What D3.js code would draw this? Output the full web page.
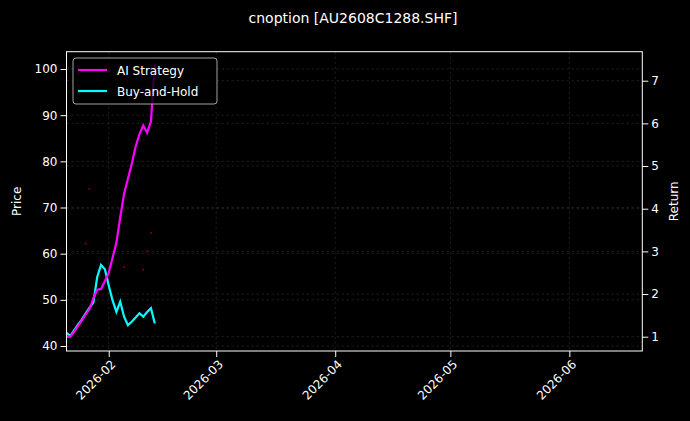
<!DOCTYPE html>
<html>
<head>
<meta charset="utf-8">
<script src="https://cdn.jsdelivr.net/npm/d3@7"></script>
<style>
  body { margin: 0; background: #000; }
  text { font-family: "DejaVu Sans", sans-serif; fill: #fff; }
</style>
</head>
<body>
<div id="chart"></div>
<script>
// dates of the daily series
var dates = ['2026-01-21','2026-01-22','2026-01-23','2026-01-24','2026-01-25','2026-01-26',
  '2026-01-27','2026-01-28','2026-01-29','2026-01-30','2026-01-31','2026-02-01','2026-02-02',
  '2026-02-03','2026-02-04','2026-02-05','2026-02-06','2026-02-07','2026-02-08','2026-02-09',
  '2026-02-10','2026-02-11','2026-02-12','2026-02-13'];
var aiReturn = [1.0, 1.0, 1.12, 1.25, 1.38, 1.52, 1.65, 1.90, 2.10, 2.12, 2.30, 2.50, 2.85,
  3.20, 3.80, 4.35, 4.70, 5.05, 5.45, 5.75, 5.95, 5.78, 6.05, 7.40];
var holdReturn = [1.09, 1.02, 1.15, 1.28, 1.40, 1.55, 1.68, 1.80, 2.40, 2.68, 2.58, 2.20, 1.85,
  1.58, 1.82, 1.47, 1.27, 1.35, 1.45, 1.55, 1.47, 1.58, 1.67, 1.31];
// faint price markers
var markDates = ['2026-01-21','2026-01-26','2026-01-27','2026-02-05','2026-02-10','2026-02-11','2026-02-12'];
var markPrice = [41, 62.2, 74, 57.1, 56.5, 60.5, 64.5];
var priceTicks = [40, 50, 60, 70, 80, 90, 100];
var returnTicks = [1, 2, 3, 4, 5, 6, 7];

var W = 690, H = 421;
var m = { left: 66.5, right: 690 - 642.3, top: 51.7, bottom: 421 - 351 };
var iw = W - m.left - m.right, ih = H - m.top - m.bottom;
var parse = d3.timeParse('%Y-%m-%d');

var svg = d3.select('#chart').append('svg').attr('width', W).attr('height', H)
  .style('background', '#000');
var g = svg.append('g').attr('transform', 'translate(' + m.left + ',' + m.top + ')');

var x = d3.scaleTime().domain([parse('2026-01-21'), new Date(2026, 5, 20)]).range([0, iw]);
var yP = d3.scaleLinear().domain([38.92, 103.75]).range([ih, 0]);
var yR = d3.scaleLinear().domain([0.665, 7.68]).range([ih, 0]);
var months = d3.timeMonth.range(new Date(2026, 1, 1), new Date(2026, 6, 1));

// grid
function grid(sel) {
  sel.attr('stroke', '#777').attr('stroke-opacity', 0.4).attr('stroke-width', 0.6)
    .attr('stroke-dasharray', '2.5,2.5');
}
g.selectAll('.gx').data(months).enter().append('line')
  .attr('x1', x).attr('x2', x).attr('y1', 0).attr('y2', ih).call(grid);
g.selectAll('.gp').data(priceTicks).enter().append('line')
  .attr('x1', 0).attr('x2', iw).attr('y1', yP).attr('y2', yP).call(grid);
g.selectAll('.gr').data(returnTicks).enter().append('line')
  .attr('x1', 0).attr('x2', iw).attr('y1', yR).attr('y2', yR).call(grid);

// markers
g.selectAll('.mk').data(markDates).enter().append('circle')
  .attr('cx', function(d) { return x(parse(d)); })
  .attr('cy', function(d, i) { return yP(markPrice[i]); })
  .attr('r', 1).attr('fill', '#8b0000');

// lines
function series(vals) {
  return vals.map(function(v, i) { return [parse(dates[i]), v]; });
}
var line = d3.line().x(function(d) { return x(d[0]); }).y(function(d) { return yR(d[1]); });
g.append('path').datum(series(holdReturn)).attr('d', line)
  .attr('fill', 'none').attr('stroke', '#00ffff').attr('stroke-width', 2.2);
g.append('path').datum(series(aiReturn)).attr('d', line)
  .attr('fill', 'none').attr('stroke', '#ff00ff').attr('stroke-width', 2.2);

// axes
function style(a) {
  a.select('.domain').remove();
  a.selectAll('line').attr('stroke', '#fff');
  a.selectAll('text').style('font-size', '12px').attr('fill', '#fff');
}
g.append('g').attr('transform', 'translate(0,' + ih + ')')
  .call(d3.axisBottom(x).tickValues(months).tickFormat(d3.timeFormat('%Y-%m')).tickSizeOuter(0))
  .call(style)
  .selectAll('text').attr('text-anchor', 'end').attr('dx', '-0.4em').attr('dy', '0.5em')
  .attr('transform', 'rotate(-45)');
g.append('g').call(d3.axisLeft(yP).tickValues(priceTicks).tickSizeOuter(0)).call(style);
g.append('g').attr('transform', 'translate(' + iw + ',0)')
  .call(d3.axisRight(yR).tickValues(returnTicks).tickFormat(d3.format('d')).tickSizeOuter(0))
  .call(style);
g.append('rect').attr('width', iw).attr('height', ih).attr('fill', 'none')
  .attr('stroke', '#fff').attr('stroke-width', 1);

// labels
svg.append('text').attr('x', 353).attr('y', 23).attr('text-anchor', 'middle')
  .style('font-size', '14px').text('cnoption [AU2608C1288.SHF]');
svg.append('text').attr('transform', 'translate(21,' + (m.top + ih / 2) + ') rotate(-90)')
  .attr('text-anchor', 'middle').style('font-size', '12px').text('Price');
svg.append('text').attr('transform', 'translate(678,' + (m.top + ih / 2) + ') rotate(-90)')
  .attr('text-anchor', 'middle').style('font-size', '12px').text('Return');

// legend
var lg = svg.append('g').attr('transform', 'translate(73,58)');
lg.append('rect').attr('width', 144).attr('height', 46).attr('rx', 3)
  .attr('fill', '#000').attr('fill-opacity', 0.8).attr('stroke', '#ccc').attr('stroke-width', 0.8);
var items = [['AI Strategy', '#ff00ff'], ['Buy-and-Hold', '#00ffff']];
items.forEach(function(it, i) {
  var yy = 12 + i * 21;
  lg.append('line').attr('x1', 5).attr('x2', 34).attr('y1', yy).attr('y2', yy)
    .attr('stroke', it[1]).attr('stroke-width', 2.2);
  lg.append('text').attr('x', 44).attr('y', yy + 4.5).style('font-size', '12px').text(it[0]);
});
</script>
</body>
</html>
